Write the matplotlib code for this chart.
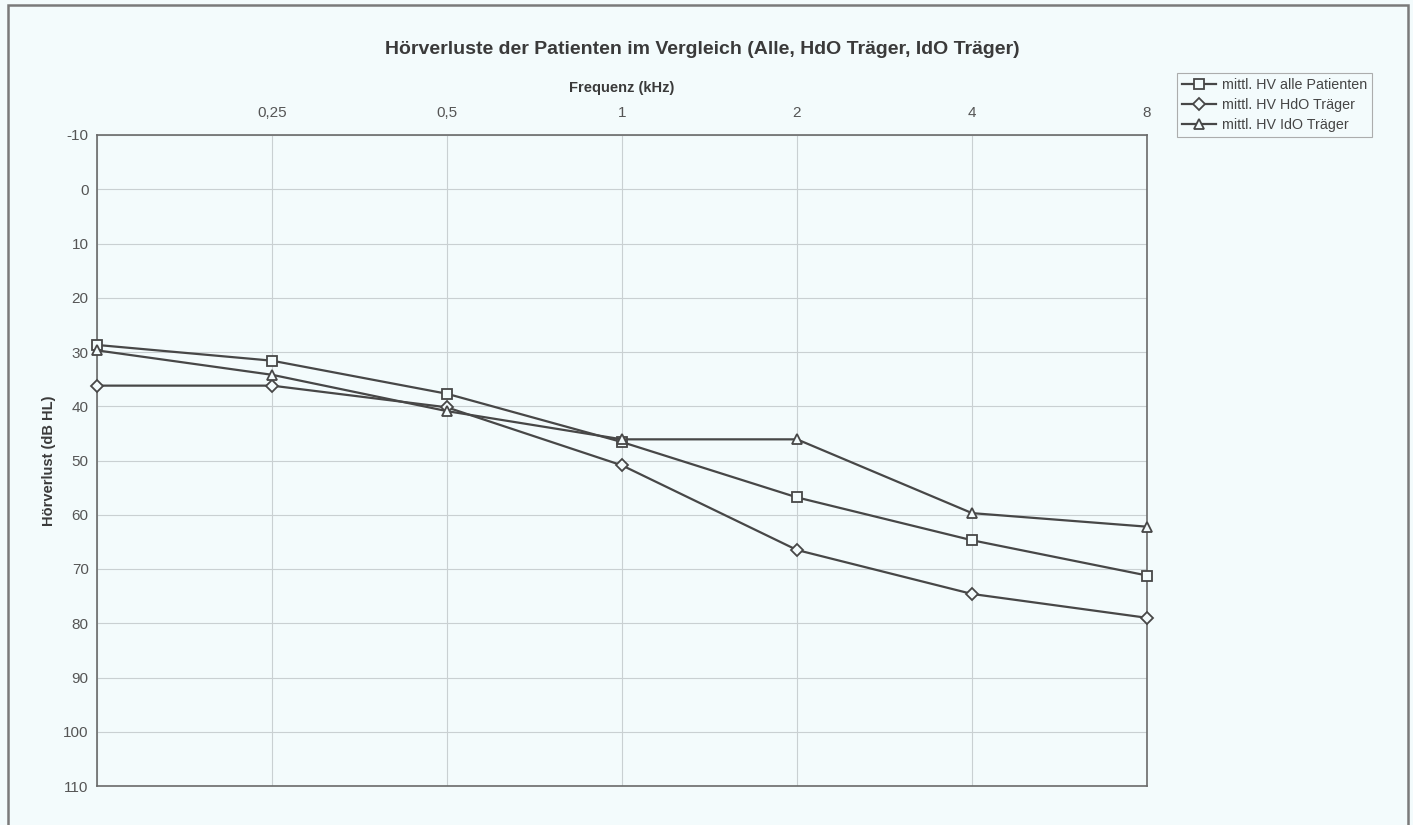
import matplotlib
matplotlib.use("Agg")
import matplotlib.pyplot as plt
from matplotlib.patches import Rectangle

plt.rcParams['font.family'] = ['Liberation Sans', 'DejaVu Sans']

# Frequency positions (first position at 0.125 kHz is left unlabeled)
freq_labels = ["", "0,25", "0,5", "1", "2", "4", "8"]

# Mean hearing loss (dB HL) per frequency
hv_alle = [28.7, 31.6, 37.7, 46.6, 56.8, 64.7, 71.2]
hv_hdo = [36.2, 36.2, 40.2, 50.9, 66.5, 74.6, 79.0]
hv_ido = [29.7, 34.2, 40.9, 46.1, 46.1, 59.7, 62.2]

series_names = ["mittl. HV alle Patienten", "mittl. HV HdO Träger", "mittl. HV IdO Träger"]

y_ticks = list(range(-10, 111, 10))

bg = "#f3fbfc"
line_col = "#474747"
txt_col = "#3a3a3a"

fig = plt.figure(figsize=(14.13, 8.25), dpi=100, facecolor=bg)
ax = fig.add_axes([97 / 1413, 1 - 786 / 825, (1147 - 97) / 1413, (786 - 135) / 825])
ax.set_facecolor(bg)

x = list(range(len(freq_labels)))
mk = dict(markersize=7, markerfacecolor=bg, markeredgecolor=line_col,
          markeredgewidth=1.3, clip_on=False, zorder=3)
ax.plot(x, hv_alle, color=line_col, lw=1.6, marker="s", label=series_names[0], **mk)
ax.plot(x, hv_hdo, color=line_col, lw=1.6, marker="D", label=series_names[1],
        **{**mk, "markersize": 6})
ax.plot(x, hv_ido, color=line_col, lw=1.6, marker="^", label=series_names[2], **mk)

ax.set_xlim(0, len(freq_labels) - 1)
ax.set_ylim(110, -10)
ax.set_yticks(y_ticks)
ax.set_yticklabels([str(v) for v in y_ticks])
ax.set_xticks(x)
ax.set_xticklabels(freq_labels)
ax.xaxis.tick_top()
ax.xaxis.set_label_position("top")
ax.tick_params(axis="both", length=0, labelsize=11, labelcolor="#555555")
ax.tick_params(axis="x", pad=11)
ax.tick_params(axis="y", pad=6)

ax.grid(True, color="#c9d0d2", lw=0.8)
ax.set_axisbelow(True)
for s in ax.spines.values():
    s.set_color("#6a6a6a")
    s.set_linewidth(1.2)

ax.set_xlabel("Frequenz (kHz)", fontsize=10.5, fontweight="bold", color=txt_col, labelpad=10)
ax.set_ylabel("Hörverlust (dB HL)", fontsize=10.5, fontweight="bold", color=txt_col, labelpad=5)

fig.text(702 / 1413, 1 - 50 / 825, "Hörverluste der Patienten im Vergleich (Alle, HdO Träger, IdO Träger)",
         ha="center", va="center", fontsize=14, fontweight="bold", color=txt_col)

leg = fig.legend(loc="upper left", bbox_to_anchor=(1177 / 1413, 1 - 73 / 825),
                 fontsize=10.3, frameon=True, fancybox=False, handlelength=2.4,
                 handletextpad=0.4, borderpad=0.35, labelspacing=0.42, borderaxespad=0)
leg.get_frame().set_edgecolor("#9a9a9a")
leg.get_frame().set_facecolor(bg)
leg.get_frame().set_linewidth(0.8)
for t in leg.get_texts():
    t.set_color("#454545")

# Outer chart frame
fig.patches.append(Rectangle((8 / 1413, -0.05), 1400 / 1413, 1.05 - 5 / 825,
                             transform=fig.transFigure, fill=False,
                             edgecolor="#7a7a7a", lw=1.8))

fig.savefig("out.png", dpi=100, facecolor=bg)
